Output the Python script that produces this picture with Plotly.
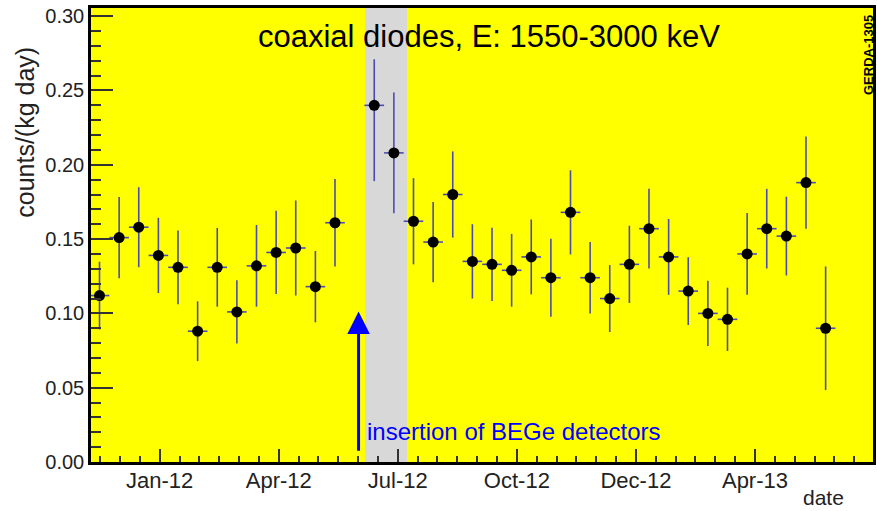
import plotly.graph_objects as go
import pandas as pd

# ---- data ----
dates = ["2011-11-17", "2011-12-02", "2011-12-17", "2012-01-01", "2012-01-16", "2012-01-31",
         "2012-02-15", "2012-03-01", "2012-03-16", "2012-03-31", "2012-04-15", "2012-04-30",
         "2012-05-15", "2012-06-14", "2012-06-29", "2012-07-14", "2012-07-29", "2012-08-13",
         "2012-08-28", "2012-09-12", "2012-09-27", "2012-10-12", "2012-10-27", "2012-11-11",
         "2012-11-26", "2012-12-11", "2012-12-26", "2013-01-10", "2013-01-25", "2013-02-09",
         "2013-02-24", "2013-03-11", "2013-03-26", "2013-04-10", "2013-04-25", "2013-05-10",
         "2013-05-25"]
rate = [0.112, 0.151, 0.158, 0.139, 0.131, 0.088, 0.131, 0.101, 0.132, 0.141, 0.144, 0.118,
        0.161, 0.240, 0.208, 0.162, 0.148, 0.180, 0.135, 0.133, 0.129, 0.138, 0.124, 0.168,
        0.124, 0.110, 0.133, 0.157, 0.138, 0.115, 0.100, 0.096, 0.140, 0.157, 0.152, 0.188,
        0.090]
err_up = [0.0228, 0.0274, 0.0269, 0.0253, 0.0248, 0.0201, 0.0265, 0.0213, 0.0275, 0.028, 0.032,
          0.024, 0.0294, 0.031, 0.0406, 0.029, 0.027, 0.029, 0.025, 0.0247, 0.0245, 0.0252,
          0.0263, 0.0283, 0.024, 0.0225, 0.026, 0.0268, 0.0255, 0.0228, 0.022, 0.0213, 0.0275,
          0.0268, 0.0265, 0.031, 0.0416]
err_down = [0.0228, 0.0274, 0.0269, 0.0253, 0.0248, 0.0201, 0.0265, 0.0213, 0.0275, 0.028, 0.032,
            0.024, 0.0294, 0.051, 0.0406, 0.029, 0.027, 0.029, 0.025, 0.0247, 0.0245, 0.0252,
            0.0263, 0.0283, 0.024, 0.0225, 0.026, 0.0268, 0.0255, 0.0228, 0.022, 0.0213, 0.0275,
            0.0268, 0.0265, 0.031, 0.0416]
half_bin_days = 7.5

x_tick_dates = ["2012-01-02", "2012-04-02", "2012-07-02", "2012-10-01", "2012-12-31", "2013-04-01"]
x_tick_text = ["Jan-12", "Apr-12", "Jul-12", "Oct-12", "Dec-12", "Apr-13"]
y_tick_vals = [0.0, 0.05, 0.10, 0.15, 0.20, 0.25, 0.30]
y_tick_text = ["0.00", "0.05", "0.10", "0.15", "0.20", "0.25", "0.30"]

x_range = ["2011-11-10 12:00", "2013-06-30 05:00"]
y_range = [0.0, 0.3055]
band = ["2012-06-07", "2012-07-09"]
insertion_date = "2012-06-02"

FONT = "Liberation Sans, Arial, sans-serif"
DAY_MS = 86400000
ERRC = "#4c4cb0"

# horizontal bin-width bars (built from the bin centres)
hx, hy = [], []
for d, v in zip(dates, rate):
    c = pd.Timestamp(d)
    hx += [c - pd.Timedelta(days=half_bin_days), c + pd.Timedelta(days=half_bin_days), None]
    hy += [v, v, None]

fig = go.Figure()
fig.add_trace(go.Scatter(x=hx, y=hy, mode="lines", line=dict(color=ERRC, width=1.6),
                         hoverinfo="skip", showlegend=False))
fig.add_trace(go.Scatter(
    x=dates, y=rate, mode="markers",
    marker=dict(color="black", size=11),
    error_y=dict(type="data", array=err_up, arrayminus=err_down, symmetric=False,
                 color=ERRC, thickness=1.6, width=0),
    showlegend=False,
))

fig.add_shape(type="rect", xref="x", yref="paper", x0=band[0], x1=band[1], y0=0, y1=1,
              fillcolor="#d8d8d8", line=dict(width=0), layer="below")

# arrow
fig.add_annotation(x=insertion_date, y=0.1013, ax=insertion_date, ay=0.0066,
                   xref="x", yref="y", axref="x", ayref="y", text="",
                   showarrow=True, arrowhead=2, arrowsize=1.5, arrowwidth=3,
                   arrowcolor="#0000ff", standoff=0)
fig.add_annotation(x="2012-06-07", y=0.0205, xref="x", yref="y", xanchor="left", yanchor="middle",
                   text="insertion of BEGe detectors", showarrow=False,
                   font=dict(family=FONT, size=24, color="#0000ff"))
# title
fig.add_annotation(x=(491 - 91) / 785, y=(462 - 36) / 454, xref="paper", yref="paper",
                   xanchor="center", yanchor="middle", text="coaxial diodes, E: 1550-3000 keV",
                   showarrow=False, font=dict(family=FONT, size=31, color="black"))
# y title
fig.add_annotation(x=(24 - 91) / 785, y=(462 - 132.5) / 454, xref="paper", yref="paper",
                   xanchor="center", yanchor="middle", textangle=-90, text="counts/(kg day)",
                   showarrow=False, font=dict(family=FONT, size=25, color="#222"))
# x title
fig.add_annotation(x=(826 - 91) / 785, y=(462 - 497) / 454, xref="paper", yref="paper",
                   xanchor="center", yanchor="middle", text="date",
                   showarrow=False, font=dict(family=FONT, size=21, color="#222"))
# GERDA tag
fig.add_annotation(x=(871 - 91) / 785, y=(462 - 55) / 454, xref="paper", yref="paper",
                   xanchor="center", yanchor="middle", textangle=-90, text="<b>GERDA-1305</b>",
                   showarrow=False, font=dict(family=FONT, size=13, color="black"))

fig.update_layout(
    width=877, height=511,
    margin=dict(l=91, r=1, t=8, b=49),
    paper_bgcolor="white", plot_bgcolor="#ffff00",
    font=dict(family=FONT, color="#222"),
)
fig.update_xaxes(
    type="date", range=x_range, tickmode="array", tickvals=x_tick_dates, ticktext=x_tick_text,
    ticks="inside", ticklen=13, tickwidth=1.5, tickcolor="#333",
    tickfont=dict(family=FONT, size=22, color="#222"), ticklabelstandoff=-3,
    minor=dict(ticks="inside", ticklen=6, tickwidth=1.5, tickcolor="#333",
               tickmode="linear", tick0=x_tick_dates[0], dtick=91 / 6 * DAY_MS),
    showgrid=False, zeroline=False,
    showline=True, linecolor="black", linewidth=2.5, mirror=True,
)
fig.update_yaxes(
    range=y_range, tickmode="array", tickvals=y_tick_vals, ticktext=y_tick_text,
    ticks="inside", ticklen=22, tickwidth=1.5, tickcolor="#333",
    tickfont=dict(family=FONT, size=20, color="#222"),
    minor=dict(ticks="inside", ticklen=10, tickwidth=1.5, tickcolor="#333",
               tickmode="linear", tick0=0, dtick=0.01),
    showgrid=False, zeroline=False,
    showline=True, linecolor="black", linewidth=2.5, mirror=True,
)

fig.write_html("out.html")
